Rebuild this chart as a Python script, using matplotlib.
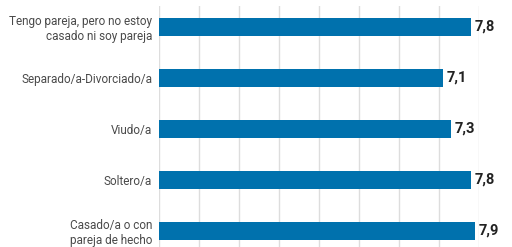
import matplotlib.pyplot as plt

categories = [
    "Tengo pareja, pero no estoy\ncasado ni soy pareja",
    "Separado/a-Divorciado/a",
    "Viudo/a",
    "Soltero/a",
    "Casado/a o con\npareja de hecho",
]
values = [7.8, 7.1, 7.3, 7.8, 7.9]
labels = ["7,8", "7,1", "7,3", "7,8", "7,9"]

fam = ["Roboto", "DejaVu Sans"]

fig = plt.figure(figsize=(5.12, 2.47), dpi=100)
ax = fig.add_axes([159 / 512, 0, 320 / 512, 241 / 247])

pos = list(range(len(categories)))
ax.barh(pos, values, height=0.36, color="#0071ad", zorder=2)
for p, v, t in zip(pos, values, labels):
    ax.text(v + 0.1, p, t, va="center", ha="left", fontsize=10.5,
            fontweight="bold", color="#222222", family=fam)

ax.set_xlim(0, 8)
ax.set_ylim(4.32, -0.41)
ax.set_xticks(range(0, 9))
ax.grid(axis="x", color="#dddddd", linewidth=1, zorder=0)
ax.tick_params(axis="x", length=0, labelbottom=False)
ax.tick_params(axis="y", length=0, pad=5)
ax.set_yticks(pos)
ax.set_yticklabels(categories, fontsize=8.5, color="#4a4a4a", family=fam,
                   linespacing=1.15)
for s in ax.spines.values():
    s.set_visible(False)

fig.savefig("out.png", dpi=100)
